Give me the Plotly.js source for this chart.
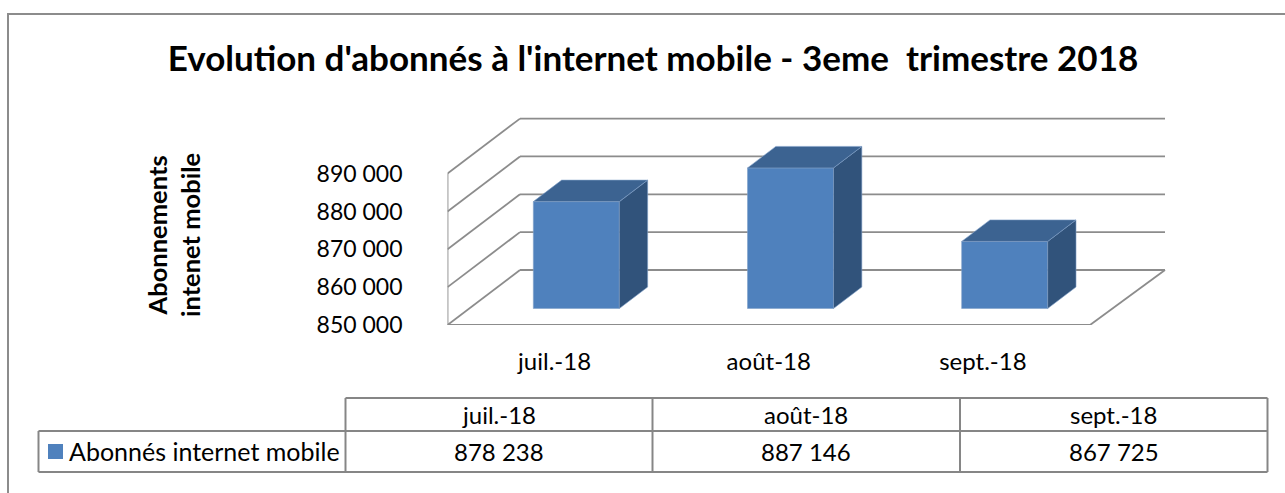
<!DOCTYPE html>
<html>
<head>
<meta charset="utf-8">
<script src="https://cdn.plot.ly/plotly-3.0.1.min.js"></script>
<style>html,body{margin:0;padding:0;background:#fff;overflow:hidden}#chart{width:1285px;height:493px}text{font-variant-ligatures:none}</style>
</head>
<body>
<div id="chart"></div>
<script>
const categories = ["juil.-18", "août-18", "sept.-18"];
const seriesName = "Abonnés internet mobile";
const subscribers = [878238, 887146, 867725];
const yTicks = [850000, 860000, 870000, 880000, 890000];
const titleText = "Evolution d'abonnés à l'internet mobile - 3eme  trimestre 2018";
const yTitleText = "Abonnements<br>intenet mobile";

const W = 1285, H = 493;
const FONT = "Lato, 'Open Sans', sans-serif";
// front plane of the 3-D box, in pixels
const box = {left: 447.5, right: 1090, floor: 325, px10k: 37.85, backDx: 72.5, backDy: 55, backRightExtra: 2.5};
const unitPx = (box.right - box.left) / categories.length;
const pxPerVal = box.px10k / 10000;
const yMin = yTicks[0];
const plotRightPx = 1170, plotTopPx = 110;
const xRange = [-0.5, -0.5 + (plotRightPx - box.left) / unitPx];
const yRange = [yMin, yMin + (box.floor - plotTopPx) / pxPerVal];
// oblique projection helpers: depth d in 0..1 shifts a point back into the box
const dX = d => d * box.backDx / unitPx;
const dY = d => d * box.backDy / pxPerVal;

const GRID = "#8c8c8c", FRONT = "#4f81bd", TOP = "#3c6391", SIDE = "#31537b", EDGE = "#7f9fc8";
const barWidth = 86 / unitPx;
const barFrontDepth = 16.5 / box.backDy;
const barBackDepth = 38 / box.backDy;

const traces = [];
const yEnd = yTicks[yTicks.length - 1];
const lastX = categories.length - 0.5;
const backRightX = lastX + dX(1) + box.backRightExtra / unitPx;

// walls and floor lie behind the bars, so they are layout shapes on the chart's own axes
const gl = (x0, y0, x1, y1) => ({type: "line", xref: "x", yref: "y", layer: "below", x0, y0, x1, y1, line: {color: GRID, width: 1.8}});
const wallShapes = [
  gl(-0.5, yMin, -0.5, yEnd),
  gl(-0.5, yMin, lastX, yMin),
  gl(lastX, yMin, backRightX, yMin + dY(1))
];
yTicks.forEach(v => {
  wallShapes.push(gl(-0.5, v, -0.5 + dX(1), v + dY(1)));
  wallShapes.push(gl(-0.5 + dX(1), v + dY(1), backRightX, v + dY(1)));
});

// bar fronts drawn by the library's bar trace
const centers = categories.map((_, i) => i + dX(barFrontDepth));
// side and top faces
subscribers.forEach((v, i) => {
  const l = centers[i] - barWidth / 2, r = centers[i] + barWidth / 2;
  const d = dX(barBackDepth - barFrontDepth), e = dY(barBackDepth - barFrontDepth);
  const base = yMin + dY(barFrontDepth), top = v + dY(barFrontDepth);
  traces.push({type: "scatter", mode: "lines", fill: "toself", fillcolor: SIDE, hoverinfo: "skip", showlegend: false,
    x: [r, r + d, r + d, r, r], y: [base, base + e, top + e, top, base], line: {color: EDGE, width: 0.6}});
  traces.push({type: "scatter", mode: "lines", fill: "toself", fillcolor: TOP, hoverinfo: "skip", showlegend: false,
    x: [l, l + d, r + d, r, l], y: [top, top + e, top + e, top, top], line: {color: EDGE, width: 0.6}});
});
traces.push({type: "bar", name: seriesName, x: centers, y: subscribers.map(v => v - yMin),
  base: subscribers.map(() => yMin + dY(barFrontDepth)), width: barWidth, showlegend: false,
  marker: {color: FRONT, line: {color: EDGE, width: 0.6}},
  customdata: subscribers, hovertemplate: "%{customdata}<extra></extra>"});

const fmt = v => String(v).replace(/\B(?=(\d{3})+$)/g, " ");

// data table grid, on the full-page second axes (pixel units)
const tableCols = [38.5, 345.5, 652.5, 960, 1267.5];
const tableRows = [398, 431, 472];
const frame = {type: "rect", xref: "x2", yref: "y2", x0: 8, x1: 1320, y0: 14, y1: 520, line: {color: "#8c8c8c", width: 2}};
const tl = (x0, y0, x1, y1) => ({type: "line", xref: "x2", yref: "y2", x0, y0, x1, y1, line: {color: "#868686", width: 2}});
const shapes = wallShapes.concat([frame,
  tl(tableCols[1], tableRows[0], tableCols[4], tableRows[0]),
  tl(tableCols[0], tableRows[1], tableCols[4], tableRows[1]),
  tl(tableCols[0], tableRows[2], tableCols[4], tableRows[2]),
  tl(tableCols[0], tableRows[1], tableCols[0], tableRows[2]),
  tl(tableCols[1], tableRows[0], tableCols[1], tableRows[2]),
  tl(tableCols[2], tableRows[0], tableCols[2], tableRows[2]),
  tl(tableCols[3], tableRows[0], tableCols[3], tableRows[2]),
  tl(tableCols[4], tableRows[0], tableCols[4], tableRows[2]),
  {type: "rect", xref: "x2", yref: "y2", x0: 48, x1: 63, y0: 444, y1: 459, fillcolor: FRONT, line: {width: 0}}
]);
const cell = (text, x, y, extra) => Object.assign({xref: "x2", yref: "y2", x, y, text, showarrow: false,
  xanchor: "center", yanchor: "middle", font: {family: FONT, size: 24, color: "#000"}}, extra || {});
const annotations = [
  cell(yTitleText, 173, 235, {textangle: -90, font: {family: FONT, size: 25.5, color: "#000", weight: 700}}),
  cell(seriesName, 204, 451, {font: {family: FONT, size: 25, color: "#000"}}),
];
categories.forEach((c, i) => {
  const mid = (tableCols[i + 1] + tableCols[i + 2]) / 2;
  annotations.push(cell(c, mid, 414.5));
  annotations.push(cell(fmt(subscribers[i]), mid, 451));
});

const layout = {
  width: W, height: H, autosize: false, paper_bgcolor: "#fff", plot_bgcolor: "rgba(0,0,0,0)",
  margin: {l: 0, r: 0, t: 0, b: 0},
  showlegend: false, barmode: "overlay",
  font: {family: FONT, color: "#000"},
  title: {text: titleText, x: 653 / W, xanchor: "center", xref: "paper", y: 1 - 59 / H, yanchor: "middle",
    font: {family: FONT, size: 35, weight: 700, color: "#000"}},
  xaxis: {domain: [box.left / W, plotRightPx / W], range: xRange, anchor: "y", tickmode: "array",
    tickvals: categories.map((_, i) => i), ticktext: categories, showgrid: false, zeroline: false, showline: false,
    ticks: "", ticklabelstandoff: 20, tickfont: {family: FONT, size: 24, color: "#000"}},
  yaxis: {domain: [1 - box.floor / H, 1 - plotTopPx / H], range: yRange, anchor: "x", tickmode: "array",
    tickvals: yTicks, ticktext: yTicks.map(fmt), showgrid: false, zeroline: false, showline: false,
    ticks: "", ticklabelstandoff: 44, tickfont: {family: FONT, size: 23, color: "#000"}},
  xaxis2: {domain: [0, 1], range: [0, W], anchor: "y2", visible: false, fixedrange: true},
  yaxis2: {domain: [0, 1], range: [H, 0], anchor: "x2", visible: false, fixedrange: true},
  shapes, annotations
};
traces.push({type: "scatter", x: [0], y: [0], xaxis: "x2", yaxis: "y2", mode: "markers", marker: {opacity: 0}, hoverinfo: "skip", showlegend: false});
Plotly.newPlot("chart", traces, layout, {displayModeBar: false, staticPlot: true});
</script>
</body>
</html>
